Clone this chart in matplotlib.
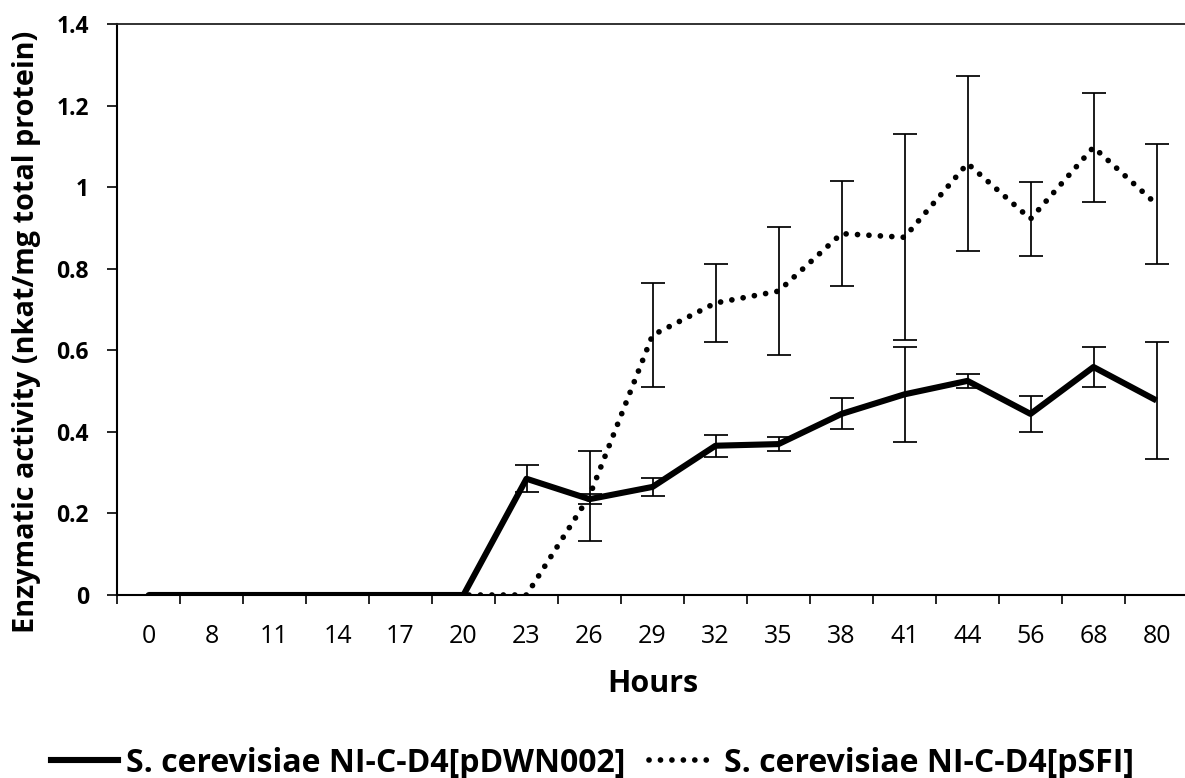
import numpy as np
import matplotlib
matplotlib.use("Agg")
import matplotlib.pyplot as plt
from matplotlib.lines import Line2D

hours = ['0', '8', '11', '14', '17', '20', '23', '26', '29', '32', '35',
         '38', '41', '44', '56', '68', '80']
pdwn002 = [0, 0, 0, 0, 0, 0, 0.285, 0.235, 0.265, 0.366, 0.370,
           0.444, 0.492, 0.525, 0.444, 0.559, 0.477]
pdwn002_err = [0, 0, 0, 0, 0, 0, 0.033, 0.013, 0.023, 0.027, 0.017,
               0.038, 0.116, 0.017, 0.045, 0.048, 0.144]
psfi = [0, 0, 0, 0, 0, 0, 0, 0.243, 0.637, 0.716, 0.745,
        0.886, 0.877, 1.058, 0.922, 1.098, 0.958]
psfi_err = [0, 0, 0, 0, 0, 0, 0, 0.110, 0.127, 0.095, 0.157,
            0.129, 0.253, 0.215, 0.090, 0.134, 0.147]
ytick_vals = [0, 0.2, 0.4, 0.6, 0.8, 1.0, 1.2, 1.4]
ytick_labels = ['0', '0.2', '0.4', '0.6', '0.8', '1', '1.2', '1.4']
label_a = 'S. cerevisiae NI-C-D4[pDWN002]'
label_b = 'S. cerevisiae NI-C-D4[pSFI]'

plt.rcParams['font.family'] = ['Open Sans', 'DejaVu Sans']

W, H = 1185, 778
fig = plt.figure(figsize=(W / 100, H / 100), dpi=100)
ax = fig.add_axes([117 / W, 183 / H, 1071 / W, 571 / H])

x = np.arange(len(hours))
dot_style = (0, (0.01, 2.0))
dot_lw = 4.1

ax.plot(x, psfi, color='black', lw=dot_lw, linestyle=dot_style,
        dash_capstyle='round', zorder=3)
ax.plot(x, pdwn002, color='black', lw=4.4, solid_joinstyle='round',
        solid_capstyle='butt', zorder=4)

for vals, errs in ((pdwn002, pdwn002_err), (psfi, psfi_err)):
    v = np.array(vals)
    e = np.array(errs)
    m = e > 0
    ax.errorbar(x[m], v[m], yerr=e[m], fmt='none', ecolor='black',
                elinewidth=1.25, capsize=8.5, capthick=1.25, zorder=5)

ax.set_xlim(-0.5, len(hours) - 0.5)
ax.set_ylim(0, 1.4)

ax.set_xticks(x)
ax.set_xticklabels(hours, fontsize=18)
ax.set_xticks(np.arange(len(hours) + 1) - 0.5, minor=True)
ax.tick_params(axis='x', which='major', length=0, pad=21)
ax.tick_params(axis='x', which='minor', length=6.5, width=1.2,
               direction='out')

ax.set_yticks(ytick_vals)
ax.set_yticklabels(ytick_labels, fontsize=16.5, fontweight='bold')
ax.tick_params(axis='y', length=7.2, width=1.2, direction='out', pad=13)

for side in ('left', 'bottom'):
    ax.spines[side].set_linewidth(1.5)
ax.spines['top'].set_linewidth(1.3)
ax.spines['top'].set_color('#222222')
ax.spines['right'].set_visible(False)

fig.text(652.5 / W, (H - 692) / H, 'Hours', ha='center', va='baseline',
         fontsize=22, fontweight='bold')
fig.text(27 / W, (H - 332) / H, 'Enzymatic activity (nkat/mg total protein)',
         ha='center', va='center', rotation=90, fontsize=20.8,
         fontweight='bold')

handles = [Line2D([], [], color='black', lw=4.4),
           Line2D([], [], color='black', lw=dot_lw, linestyle=dot_style,
                  dash_capstyle='round')]
fig.legend(handles, [label_a, label_b], loc='lower center', ncol=2,
           bbox_to_anchor=(0.5, -0.0185), frameon=False,
           prop={'size': 23, 'weight': 'bold'}, handlelength=2.1,
           handletextpad=0.25, columnspacing=0.75, borderaxespad=0)

fig.savefig('out.png', dpi=100)
